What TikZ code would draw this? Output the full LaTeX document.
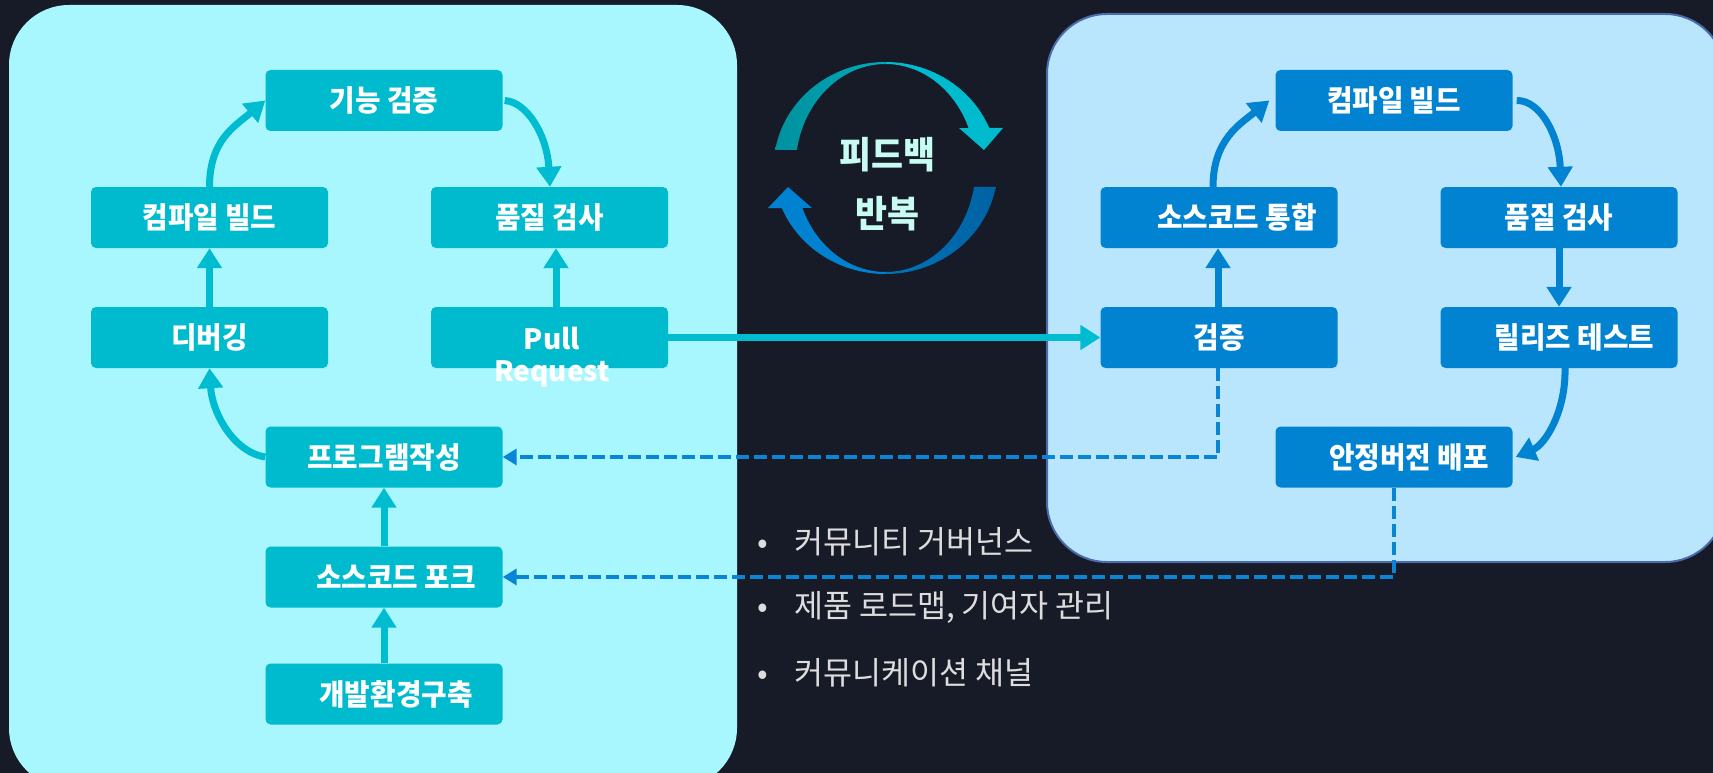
\documentclass[tikz,border=0pt]{standalone}
\usepackage{fontspec}
\usetikzlibrary{arrows.meta,calc}
\newfontfamily\krs[FakeStretch=0.94]{Noto Sans CJK KR}
\newfontfamily\krn{Noto Sans CJK KR}
\definecolor{cBg}{HTML}{171B27}
\definecolor{cLpanel}{HTML}{A8F7FE}
\definecolor{cLbox}{HTML}{00BACD}
\definecolor{cLarrow}{HTML}{00BCD0}
\definecolor{cRpanel}{HTML}{BAE6FD}
\definecolor{cRborder}{HTML}{4B6BAA}
\definecolor{cRbox}{HTML}{0283D1}
\definecolor{cDash}{HTML}{0A84D4}
\definecolor{cFbText}{HTML}{C8FBF1}
\definecolor{cBull}{HTML}{DDDDDD}
\definecolor{cTealD}{HTML}{00909D}
\definecolor{cTealM}{HTML}{00ABBC}
\definecolor{cTealB}{HTML}{00BACD}
\definecolor{cBlueD}{HTML}{0062A2}
\definecolor{cBlueM}{HTML}{0074BA}
\definecolor{cBlueB}{HTML}{0082D0}
\begin{document}
\begin{tikzpicture}[x=1pt,y=-1pt,
  boxbase/.style={rectangle, rounded corners=5pt, minimum width=237pt, minimum height=61pt,
    inner sep=0pt, text=white, font=\krs\bfseries\fontsize{29.5}{32}\selectfont},
  lstep/.style={boxbase, fill=cLbox},
  rstep/.style={boxbase, fill=cRbox},
  larr/.style={draw=cLarrow, line width=7pt, -{Triangle[width=24pt,length=20pt]}},
  rarr/.style={draw=cRbox, line width=7pt, -{Triangle[width=24pt,length=20pt]}},
  dasharr/.style={draw=cDash, line width=4pt, dash pattern=on 13pt off 5pt, -{Triangle[width=16pt,length=14pt]}},
  bullet/.style={anchor=west, inner sep=0pt, text=cBull, font=\krn\fontsize{31.5}{34}\selectfont}
]
\useasboundingbox (0,0) rectangle (1713,773);
\fill[cBg] (0,0) rectangle (1713,773);
\begin{scope}
\clip (0,0) rectangle (1713,773);
\fill[cLpanel, rounded corners=60pt] (9,5) rectangle (737,788);
\filldraw[fill=cRpanel, draw=cRborder, line width=2pt, rounded corners=60pt] (1047,14) rectangle (1725,562);
\end{scope}

% feedback cycle
\shade[left color=cTealD, right color=cTealM]
  plot[domain=189.8:270, samples=40] ({885.5+112*cos(\x)},{168+106*sin(\x)})
  -- plot[domain=270:189.97, samples=40] ({885.5+90*cos(\x)},{168+104*sin(\x)}) -- cycle;
\fill[cTealB]
  plot[domain=270:337.8, samples=40] ({885.5+112*cos(\x)},{168+106*sin(\x)})
  -- (1003,128) -- (984,150) -- (959,128)
  -- plot[domain=337.4:270, samples=40] ({885.5+90*cos(\x)},{168+104*sin(\x)}) -- cycle;
\shade[left color=cBlueM, right color=cBlueD]
  plot[domain=10.3:90, samples=40] ({885.5+112*cos(\x)},{168+106*sin(\x)})
  -- plot[domain=90:10.5, samples=40] ({885.5+90*cos(\x)},{168+104*sin(\x)}) -- cycle;
\fill[cBlueB]
  plot[domain=90:157.8, samples=40] ({885.5+112*cos(\x)},{168+106*sin(\x)})
  -- (768,208) -- (788,187) -- (812,208)
  -- plot[domain=157.4:90, samples=40] ({885.5+90*cos(\x)},{168+104*sin(\x)}) -- cycle;
\node[align=center, text=cFbText, inner sep=0pt, font=\krs\bfseries\fontsize{37}{59}\selectfont] (fbt) at (887,184) {피드백\\반복};

% left boxes
\node[lstep] (fv) at (384,100.5) {기능 검증};
\node[lstep] (cbL) at (209.5,217.5) {컴파일 빌드};
\node[lstep] (qcL) at (549.5,217.5) {품질 검사};
\node[lstep] (dbg) at (209.5,337.5) {디버깅};
\node[lstep] (pr) at (549.5,337.5) {};
\node[align=center, text=white, inner sep=0pt, font=\krn\bfseries\fontsize{28}{32}\selectfont] (prt) at (552,357.5) {Pull\\Request};
\node[lstep] (pw) at (384,457) {프로그램작성};
\node[lstep] (fork) at (384,577) {\hspace*{24pt}소스코드 포크};
\node[lstep] (env) at (384,694) {\hspace*{24pt}개발환경구축};

% right boxes
\node[rstep] (cbR) at (1394,100.5) {컴파일 빌드};
\node[rstep] (sci) at (1219,217.5) {\hspace*{36pt}소스코드 통합};
\node[rstep] (qcR) at (1559,217.5) {품질 검사};
\node[rstep] (ver) at (1219,337.5) {검증};
\node[rstep] (rt) at (1559,337.5) {\hspace*{31pt}릴리즈 테스트};
\node[rstep] (dep) at (1394,457) {\hspace*{30pt}안정버전 배포};

% left arrows
\draw[larr] (cbL.north) .. controls (209.5,140) and (235,126) .. (fv.west);
\draw[larr] ([xshift=2pt]fv.east) .. controls (527,102) and (547,135) .. ([xshift=0.5pt]qcL.north);
\draw[larr] (dbg.north) -- (cbL.south);
\draw[larr] ([xshift=6.5pt]pr.north) -- ([xshift=6.5pt]qcL.south);
\draw[larr] (pw.west) .. controls (233,452) and (212,412) .. (dbg.south);
\draw[larr] (fork.north) -- (pw.south);
\draw[larr] (env.north) -- (fork.south);
\draw[larr] (pr.east) -- (ver.west);

% right arrows
\draw[rarr] ([xshift=-6pt]sci.north) .. controls (1213,140) and (1240,124) .. ([xshift=-6pt]cbR.west);
\draw[rarr] ([xshift=4pt]cbR.east) .. controls (1540,100) and (1559,135) .. ([xshift=2pt]qcR.north);
\draw[rarr] ([xshift=-1pt]ver.north) -- ([xshift=-1pt]sci.south);
\draw[rarr] (qcR.south) -- (rt.north);
\draw[rarr] ([xshift=6pt]rt.south) .. controls (1566,410) and (1546,444) .. ([xshift=3pt]dep.east);

% dashed feedback
\draw[dasharr] ([xshift=-1pt]ver.south) |- (pw.east);
\draw[dasharr] (dep.south) |- (fork.east);

% bullets
\node[bullet] (b1) at (757,542) {\makebox[37pt][l]{•}커뮤니티 거버넌스};
\node[bullet] (b2) at (757,607) {\makebox[37pt][l]{•}제품 로드맵, 기여자 관리};
\node[bullet] (b3) at (757,673) {\makebox[37pt][l]{•}커뮤니케이션 채널};
\end{tikzpicture}
\end{document}
